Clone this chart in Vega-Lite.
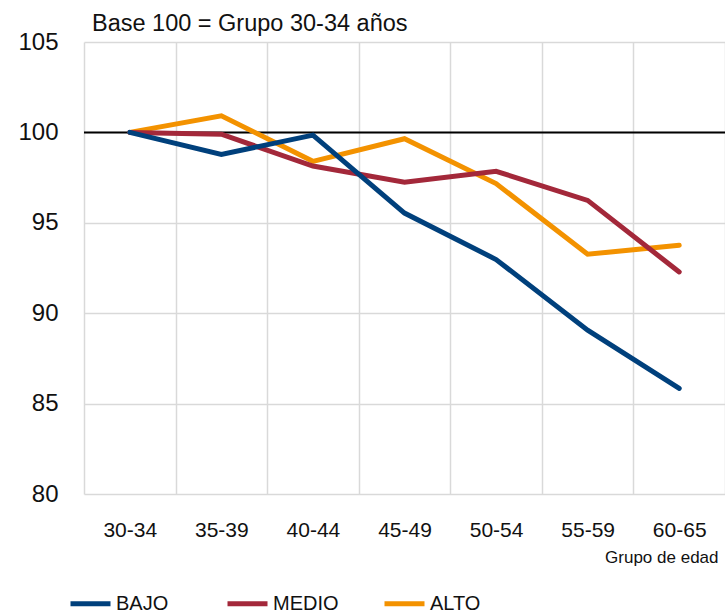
{
  "$schema": "https://vega.github.io/schema/vega-lite/v6.json",
  "autosize": "none",
  "width": 641,
  "height": 452,
  "padding": {"left": 84, "top": 42, "right": 0, "bottom": 121},
  "background": "white",
  "title": {
    "text": "Base 100 = Grupo 30-34 años",
    "anchor": "start",
    "frame": "group",
    "dx": 8,
    "offset": -5,
    "fontSize": 23.5,
    "font": "Liberation Sans",
    "fontWeight": "normal",
    "color": "#111111"
  },
  "config": {
    "view": {"stroke": null},
    "font": "Liberation Sans"
  },
  "datasets": {
    "series": [
      {"grupo": "30-34", "nivel": "ALTO", "valor": 100},
      {"grupo": "35-39", "nivel": "ALTO", "valor": 100.92},
      {"grupo": "40-44", "nivel": "ALTO", "valor": 98.4},
      {"grupo": "45-49", "nivel": "ALTO", "valor": 99.65},
      {"grupo": "50-54", "nivel": "ALTO", "valor": 97.17},
      {"grupo": "55-59", "nivel": "ALTO", "valor": 93.26},
      {"grupo": "60-65", "nivel": "ALTO", "valor": 93.76},
      {"grupo": "30-34", "nivel": "MEDIO", "valor": 100},
      {"grupo": "35-39", "nivel": "MEDIO", "valor": 99.9},
      {"grupo": "40-44", "nivel": "MEDIO", "valor": 98.14},
      {"grupo": "45-49", "nivel": "MEDIO", "valor": 97.24},
      {"grupo": "50-54", "nivel": "MEDIO", "valor": 97.85},
      {"grupo": "55-59", "nivel": "MEDIO", "valor": 96.24},
      {"grupo": "60-65", "nivel": "MEDIO", "valor": 92.28},
      {"grupo": "30-34", "nivel": "BAJO", "valor": 100},
      {"grupo": "35-39", "nivel": "BAJO", "valor": 98.78},
      {"grupo": "40-44", "nivel": "BAJO", "valor": 99.85},
      {"grupo": "45-49", "nivel": "BAJO", "valor": 95.54},
      {"grupo": "50-54", "nivel": "BAJO", "valor": 92.97},
      {"grupo": "55-59", "nivel": "BAJO", "valor": 89.06},
      {"grupo": "60-65", "nivel": "BAJO", "valor": 85.84}
    ],
    "ref": [{"base": 100}]
  },
  "encoding": {
    "x": {
      "field": "grupo",
      "type": "ordinal",
      "sort": ["30-34", "35-39", "40-44", "45-49", "50-54", "55-59", "60-65"],
      "scale": {"type": "band", "paddingInner": 0, "paddingOuter": 0},
      "bandPosition": 0.5,
      "axis": {
        "title": "Grupo de edad",
        "tickBand": "extent",
        "labelAngle": 0,
        "domain": false,
        "ticks": false,
        "grid": true,
        "gridColor": "#d9d9d9",
        "gridWidth": 1.5,
        "labelFont": "Liberation Sans",
        "labelFontSize": 21,
        "labelColor": "#111111",
        "labelPadding": 25,
        "titleFont": "Liberation Sans",
        "titleFontSize": 17,
        "titleFontWeight": "normal",
        "titleColor": "#111111",
        "titleX": 634,
        "titleY": 68,
        "titleAlign": "right",
        "titleBaseline": "alphabetic"
      }
    }
  },
  "layer": [
    {
      "data": {"name": "ref"},
      "mark": {"type": "rule", "color": "#000000", "strokeWidth": 2},
      "encoding": {
        "y": {
          "field": "base",
          "type": "quantitative",
          "scale": {"domain": [80, 105], "nice": false, "zero": false},
          "axis": {
            "title": null,
            "values": [80, 85, 90, 95, 100, 105],
            "domain": false,
            "ticks": false,
            "grid": true,
            "gridColor": "#d9d9d9",
            "gridWidth": 1.5,
            "labelFont": "Liberation Sans",
            "labelFontSize": 24,
            "labelColor": "#111111",
            "labelPadding": 26
          }
        },
        "x": null
      }
    },
    {
      "data": {"name": "series"},
      "mark": {"type": "line", "strokeWidth": 5, "strokeCap": "round", "strokeJoin": "miter"},
      "encoding": {
        "y": {"field": "valor", "type": "quantitative"},
        "color": {
          "field": "nivel",
          "type": "nominal",
          "scale": {"domain": ["BAJO", "MEDIO", "ALTO"], "range": ["#00407C", "#A3283A", "#F39200"]},
          "legend": {
            "title": null,
            "orient": "none",
            "direction": "horizontal",
            "legendX": -16,
            "legendY": 539,
            "columns": 3,
            "gridAlign": "all",
            "columnPadding": 35,
            "symbolType": "stroke",
            "symbolSize": 1600,
            "symbolStrokeWidth": 5,
            "symbolOffset": 0,
            "labelOffset": 3,
            "labelFont": "Liberation Sans",
            "labelFontSize": 20,
            "labelColor": "#111111"
          }
        }
      }
    }
  ]
}
